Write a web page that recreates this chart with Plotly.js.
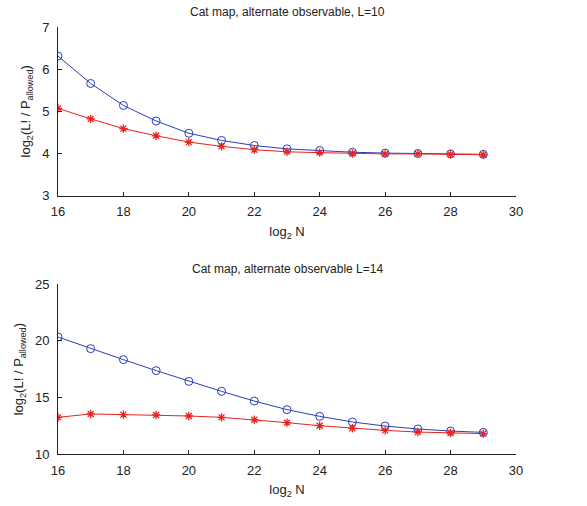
<!DOCTYPE html>
<html><head><meta charset="utf-8">
<script src="https://cdn.plot.ly/plotly-3.0.1.min.js"></script>
<style>body{margin:0;background:#fff}#chart{width:587px;height:506px}</style>
</head><body><div id="chart"></div>
<script>
const log2N = [16,17,18,19,20,21,22,23,24,25,26,27,28,29];
const L10_blue = [6.31,5.66,5.14,4.77,4.48,4.31,4.19,4.11,4.07,4.03,4.01,4.00,3.99,3.98];
const L10_red  = [5.07,4.82,4.59,4.42,4.27,4.17,4.09,4.04,4.02,4.00,3.99,3.99,3.98,3.97];
const L14_blue = [20.34,19.31,18.34,17.37,16.42,15.54,14.68,13.92,13.33,12.83,12.47,12.21,12.03,11.91];
const L14_red  = [13.24,13.54,13.48,13.45,13.36,13.24,13.03,12.77,12.50,12.27,12.09,11.94,11.86,11.80];
const titleTop = "Cat map, alternate observable, L=10";
const titleBottom = "Cat map, alternate observable L=14";
const xTitle = "log<sub>2</sub> N";
const yTitle = "log<sub>2</sub>(L! / P<sub>allowed</sub>)";

const BLUE = "#2b3fb3", RED = "#e8231f";
const font = {family: "Liberation Sans, Arial, sans-serif", size: 13, color: "#222"};

function blueTrace(y, xa, ya){
  return {x: log2N, y: y, xaxis: xa, yaxis: ya, mode: "lines+markers", type: "scatter",
    line: {color: BLUE, width: 1}, marker: {symbol: "circle-open", size: 8, color: BLUE, line: {width: 1, color: BLUE}}, showlegend: false};
}
function redTrace(y, xa, ya){
  return {x: log2N, y: y, xaxis: xa, yaxis: ya, mode: "lines+markers", type: "scatter",
    line: {color: RED, width: 1}, marker: {symbol: "asterisk-open", size: 7, color: RED, line: {width: 1.3, color: RED}}, showlegend: false};
}
const data = [
  blueTrace(L10_blue, "x", "y"), redTrace(L10_red, "x", "y"),
  blueTrace(L14_blue, "x2", "y2"), redTrace(L14_red, "x2", "y2")
];
const xBase = {range: [16, 30], tickvals: [16,18,20,22,24,26,28,30], ticks: "inside", ticklen: 4, tickcolor: "#222",
  showline: true, linecolor: "#222", linewidth: 1, showgrid: false, zeroline: false, tickfont: font, ticklabelstandoff: 4,
  title: {text: xTitle, font: font, standoff: 8}};
const yBase = {ticks: "inside", ticklen: 4, tickcolor: "#222", showline: true, linecolor: "#222", linewidth: 1,
  showgrid: false, zeroline: false, tickfont: font, ticklabelstandoff: 5, title: {text: yTitle, font: font, standoff: 8}};
const layout = {
  width: 587, height: 506, paper_bgcolor: "#fff", plot_bgcolor: "#fff",
  margin: {l: 58, r: 71, t: 27, b: 52}, font: font,
  xaxis: Object.assign({}, xBase, {domain: [0,1], anchor: "y"}),
  yaxis: Object.assign({}, yBase, {domain: [0.605, 1], range: [3, 7], tickvals: [3,4,5,6,7], anchor: "x"}),
  xaxis2: Object.assign({}, xBase, {domain: [0,1], anchor: "y2"}),
  yaxis2: Object.assign({}, yBase, {domain: [0, 0.3974], range: [10, 25], tickvals: [10,15,20,25], anchor: "x2"}),
  annotations: [
    {text: titleTop, xref: "paper", yref: "paper", x: 0.5, y: 1, yanchor: "middle", yshift: 15, showarrow: false, font: {family: font.family, size: 12, color: "#222"}},
    {text: titleBottom, xref: "paper", yref: "paper", x: 0.5, y: 0.3974, yanchor: "middle", yshift: 15, showarrow: false, font: {family: font.family, size: 12, color: "#222"}}
  ]
};
Plotly.newPlot("chart", data, layout, {displayModeBar: false, staticPlot: true});
</script></body></html>
